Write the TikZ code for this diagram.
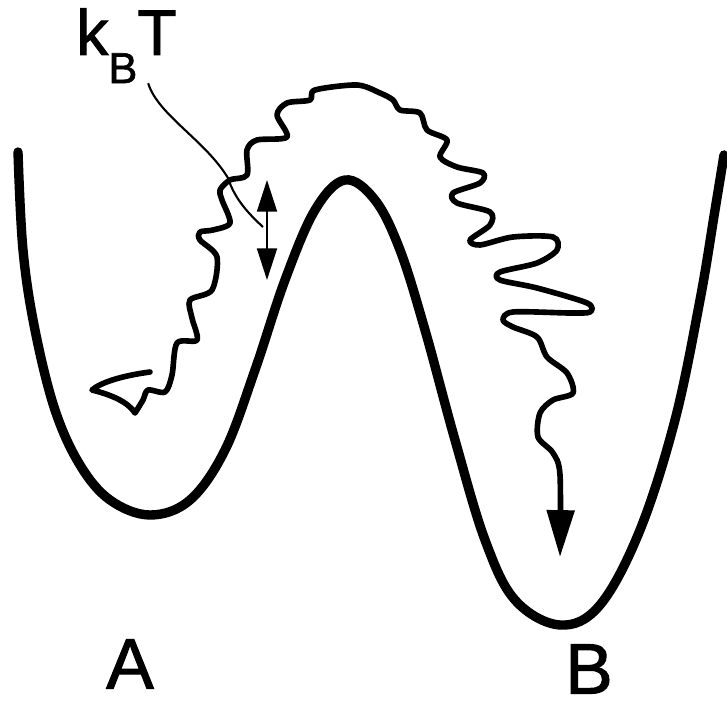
\documentclass[tikz,border=0pt]{standalone}
\usepackage{fontspec}
\setmainfont{Liberation Sans}
\newfontfamily\lblfont{Liberation Sans}[FakeBold=1.4]
\usetikzlibrary{arrows.meta}
\begin{document}
\begin{tikzpicture}[x=0.03cm,y=-0.03cm,
  >={Triangle[length=27pt,width=17pt]},
  well/.style={line width=8pt,line cap=round},
  walk/.style={line width=4.8pt,line join=round,line cap=round},
  lead/.style={line width=1.8pt},
  lbl/.style={inner sep=0pt,font=\fontsize{61}{61}\lblfont}]
\useasboundingbox (0,0) rectangle (727,713);
\draw[well] plot[smooth,tension=0.6] coordinates {(18,152) (23,250) (35,330) (55,410) (80,465) (110,500) (150,515) (190,500) (225,450) (255,370) (285,280) (315,210) (345,180) (375,200) (400,250) (425,330) (455,440) (485,540) (515,600) (560,625) (600,605) (640,530) (675,420) (700,300) (715,210) (724,155)};
\draw[walk,-{Triangle[length=40pt,width=23pt]}] (150,372) .. controls (120,376) and (100,383) .. (92,390) .. controls (112,395) and (128,402) .. (135,413)
  -- plot[smooth,tension=0.5] coordinates {(135,413) (143,400) (148,390) (165,392) (172,375) (177,343) (197,340) (192,318) (190,300) (212,290) (217,257) (200,240) (200,232) (213,230) (230,223) (222,200) (220,190) (230,180) (247,175) (247,150) (257,140) (287,137) (277,115) (287,103) (310,100) (315,90) (357,85) (380,93) (393,100) (400,110) (420,113) (427,130) (447,140) (440,157) (457,167) (483,173) (480,183) (453,193) (457,203) (490,212) (490,225) (470,240) (480,245) (513,237) (553,237) (557,250) (537,263) (500,272) (500,280) (537,288) (587,303) (590,312) (570,313) (513,312) (503,320) (513,327) (537,337) (547,357) (567,373) (573,393) (553,400) (540,413) (538,437) (553,453) (560,475) (560,557)};
\node[lbl] (A) at (130,664) {A};
\node[lbl] (B) at (589,669) {B};
\node[lbl,anchor=base west,font=\fontsize{55}{55}\lblfont] (kT) at (76,55) {k\lower24pt\hbox{\fontsize{37}{37}\lblfont B}T};
\coordinate (kick) at (263,227);
\coordinate (up) at (267,180);
\coordinate (dn) at (267,280);
\draw[lead] (kT.-60) .. controls (158,115) and (205,140) .. (228,178) .. controls (235,200) and (250,215) .. (kick);
\draw[lead,<->] (up) -- (dn);
\end{tikzpicture}
\end{document}
